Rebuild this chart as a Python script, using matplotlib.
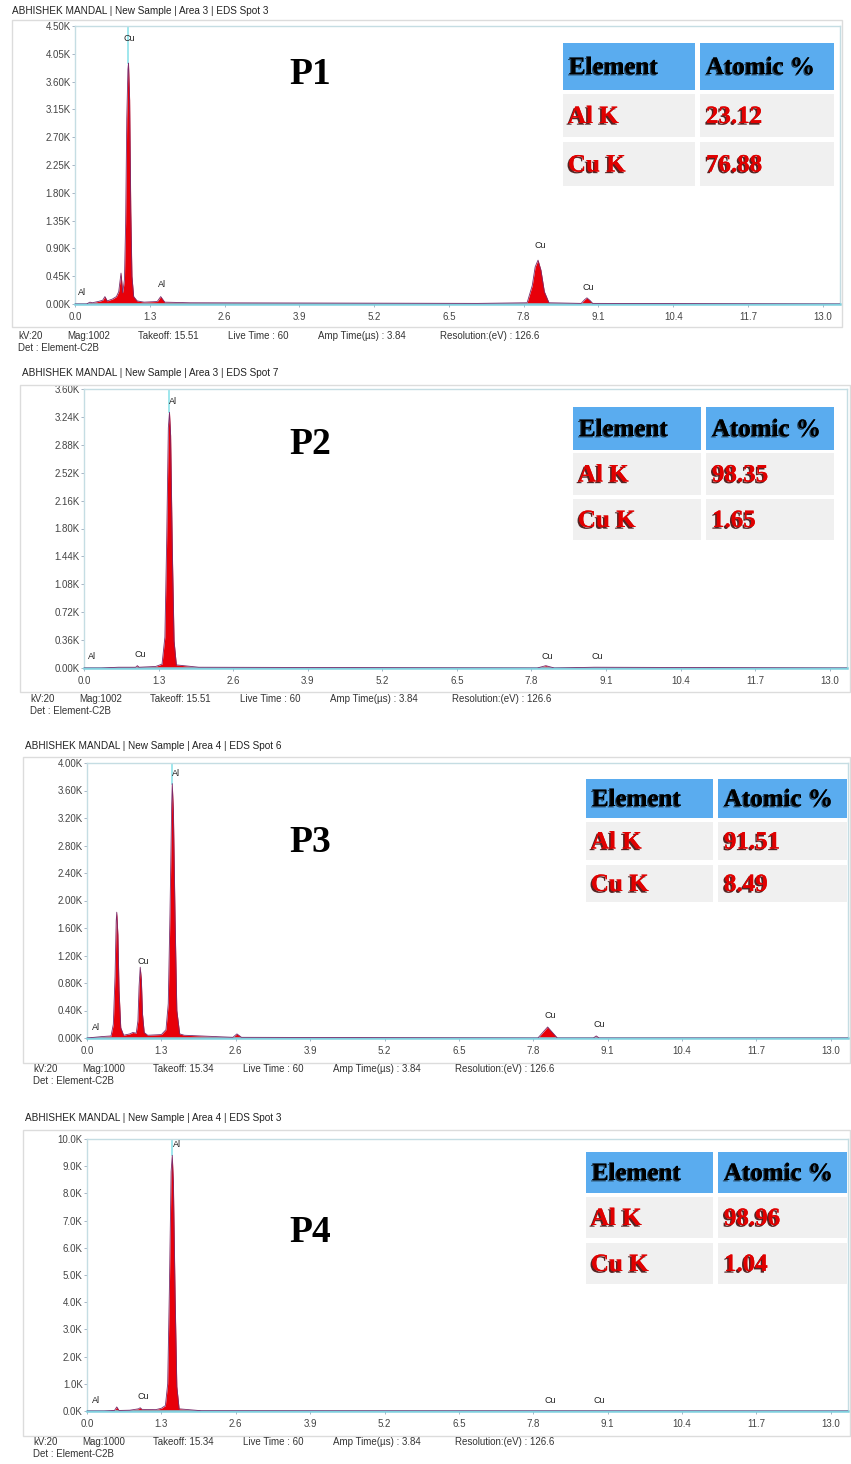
import numpy as np
import matplotlib.pyplot as plt
from matplotlib.patches import Rectangle
import matplotlib.patheffects as pe

W, H = 851, 1464

# energies in keV, counts in thousands
p1_energy = [0.0, 0.20, 0.26, 0.30, 0.40, 0.48, 0.52, 0.56, 0.65, 0.72, 0.76, 0.78, 0.80,
             0.83, 0.86, 0.88, 0.90, 0.92, 0.93, 0.95, 0.97, 0.99, 1.02, 1.08, 1.20, 1.43,
             1.49, 1.56, 2.00, 7.00, 7.86, 7.95, 8.00, 8.05, 8.10, 8.16, 8.24, 8.80, 8.86,
             8.90, 8.95, 9.00, 13.3]
p1_counts = [0.0, 0.0, 0.03, 0.02, 0.04, 0.06, 0.12, 0.05, 0.08, 0.12, 0.20, 0.35, 0.50,
             0.18, 0.40, 1.30, 3.00, 3.80, 3.90, 3.30, 1.50, 0.45, 0.12, 0.05, 0.03, 0.04,
             0.12, 0.03, 0.02, 0.01, 0.02, 0.30, 0.60, 0.71, 0.55, 0.20, 0.02, 0.01, 0.07,
             0.10, 0.06, 0.01, 0.0]

p2_energy = [0.0, 0.30, 0.60, 0.90, 0.93, 0.96, 1.25, 1.36, 1.41, 1.44, 1.47, 1.49, 1.51,
             1.54, 1.57, 1.61, 2.00, 7.90, 8.05, 8.20, 8.90, 13.3]
p2_counts = [0.0, 0.0, 0.01, 0.01, 0.03, 0.01, 0.02, 0.05, 0.40, 1.60, 3.10, 3.30, 3.00,
             1.50, 0.35, 0.04, 0.01, 0.0, 0.03, 0.0, 0.01, 0.0]

p3_energy = [0.0, 0.25, 0.42, 0.46, 0.49, 0.51, 0.52, 0.54, 0.56, 0.59, 0.64, 0.75, 0.80,
             0.86, 0.89, 0.91, 0.93, 0.95, 0.97, 1.00, 1.06, 1.30, 1.38, 1.42, 1.45, 1.48,
             1.49, 1.51, 1.54, 1.57, 1.62, 1.70, 2.55, 2.62, 2.70, 7.88, 8.05, 8.22, 8.85,
             8.90, 8.95, 13.3]
p3_counts = [0.0, 0.02, 0.03, 0.20, 0.90, 1.70, 1.83, 1.50, 0.70, 0.15, 0.04, 0.06, 0.08,
             0.07, 0.25, 0.75, 1.03, 0.85, 0.35, 0.08, 0.04, 0.05, 0.12, 0.50, 1.80, 3.40,
             3.70, 3.30, 1.70, 0.40, 0.06, 0.04, 0.01, 0.06, 0.01, 0.0, 0.16, 0.0, 0.0, 0.03,
             0.0, 0.0]

p4_energy = [0.0, 0.30, 0.48, 0.52, 0.56, 0.75, 0.90, 0.93, 0.96, 1.20, 1.30, 1.37, 1.41,
             1.44, 1.47, 1.49, 1.51, 1.54, 1.57, 1.61, 2.00, 13.3]
p4_counts = [0.0, 0.0, 0.02, 0.15, 0.02, 0.03, 0.08, 0.12, 0.06, 0.05, 0.10, 0.20, 1.00,
             4.50, 8.80, 9.40, 8.40, 4.20, 0.90, 0.08, 0.01, 0.0]

p1_yticks = [0.0, 0.45, 0.90, 1.35, 1.80, 2.25, 2.70, 3.15, 3.60, 4.05, 4.50]
p2_yticks = [0.0, 0.36, 0.72, 1.08, 1.44, 1.80, 2.16, 2.52, 2.88, 3.24, 3.60]
p3_yticks = [0.0, 0.40, 0.80, 1.20, 1.60, 2.00, 2.40, 2.80, 3.20, 3.60, 4.00]
p4_yticks = [0.0, 1.0, 2.0, 3.0, 4.0, 5.0, 6.0, 7.0, 8.0, 9.0, 10.0]
x_ticks = [0.0, 1.3, 2.6, 3.9, 5.2, 6.5, 7.8, 9.1, 10.4, 11.7, 13.0]

# peak labels: (text, energy, height)
p1_labels = [("Al", 0.12, 0.18), ("Cu", 0.94, 4.30), ("Al", 1.52, 0.31),
             ("Cu", 8.09, 0.94), ("Cu", 8.92, 0.26)]
p2_labels = [("Al", 0.14, 0.15), ("Cu", 0.98, 0.17), ("Al", 1.55, 3.44),
             ("Cu", 8.08, 0.15), ("Cu", 8.95, 0.15)]
p3_labels = [("Al", 0.16, 0.16), ("Cu", 0.98, 1.12), ("Al", 1.55, 3.84),
             ("Cu", 8.10, 0.32), ("Cu", 8.95, 0.19)]
p4_labels = [("Al", 0.16, 0.40), ("Cu", 0.98, 0.55), ("Al", 1.57, 9.78),
             ("Cu", 8.10, 0.40), ("Cu", 8.95, 0.40)]

elements = ["Al K", "Cu K"]
p1_atomic = ["23.12", "76.88"]
p2_atomic = ["98.35", "1.65"]
p3_atomic = ["91.51", "8.49"]
p4_atomic = ["98.96", "1.04"]

titles = ["ABHISHEK MANDAL | New Sample | Area 3 | EDS Spot 3",
          "ABHISHEK MANDAL | New Sample | Area 3 | EDS Spot 7",
          "ABHISHEK MANDAL | New Sample | Area 4 | EDS Spot 6",
          "ABHISHEK MANDAL | New Sample | Area 4 | EDS Spot 3"]
mags = ["Mag:1002", "Mag:1002", "Mag:1000", "Mag:1000"]
takeoffs = ["Takeoff: 15.51", "Takeoff: 15.51", "Takeoff: 15.34", "Takeoff: 15.34"]
panel_names = ["P1", "P2", "P3", "P4"]

panels = [
    dict(e=p1_energy, c=p1_counts, yt=p1_yticks, fmt="{:.2f}K", lab=p1_labels, at=p1_atomic,
         marker=0.93, ax=(75, 26, 840, 304), frame=(12, 20, 842, 327), title=(12, 11),
         foot=(18, 336), pname=(310, 75),
         table=(563, 695, 700, 834, 43, 90, 94, 137, 142, 186)),
    dict(e=p2_energy, c=p2_counts, yt=p2_yticks, fmt="{:.2f}K", lab=p2_labels, at=p2_atomic,
         marker=1.49, ax=(84, 389, 847, 668), frame=(20, 385, 850, 692), title=(22, 373),
         foot=(30, 699), pname=(310, 445),
         table=(573, 701, 706, 834, 407, 450, 453, 495, 499, 540)),
    dict(e=p3_energy, c=p3_counts, yt=p3_yticks, fmt="{:.2f}K", lab=p3_labels, at=p3_atomic,
         marker=1.49, ax=(87, 763, 848, 1038), frame=(23, 757, 850, 1063), title=(25, 746),
         foot=(33, 1069), pname=(310, 843),
         table=(586, 713, 718, 847, 779, 818, 822, 860, 865, 902)),
    dict(e=p4_energy, c=p4_counts, yt=p4_yticks, fmt="{:.1f}K", lab=p4_labels, at=p4_atomic,
         marker=1.49, ax=(87, 1139, 848, 1411), frame=(23, 1130, 850, 1436), title=(25, 1118),
         foot=(33, 1442), pname=(310, 1233),
         table=(586, 713, 718, 847, 1152, 1193, 1197, 1238, 1243, 1284)),
]

plt.rcParams['font.family'] = ['Liberation Sans', 'DejaVu Sans']
fig = plt.figure(figsize=(W / 100, H / 100), dpi=100)

serif = 'Liberation Serif'
shadow = [pe.withSimplePatchShadow(offset=(-1.2, -1.2), shadow_rgbFace='#3a0000', alpha=0.85),
          pe.Normal()]
shadow_hdr = [pe.withSimplePatchShadow(offset=(-1.0, -1.0), shadow_rgbFace='#000000', alpha=0.6),
              pe.Normal()]

for i, p in enumerate(panels):
    l, t, r, b = p['ax']
    ax = fig.add_axes([l / W, 1 - b / H, (r - l) / W, (b - t) / H])
    ax.fill_between(p['e'], p['c'], color='#e8000a', lw=0, zorder=2)
    ax.plot(p['e'], p['c'], color='#7a2a6a', lw=0.6, zorder=3)
    ymax = p['yt'][-1]
    ax.plot([p['marker'], p['marker']], [max(p['c']), ymax], color='#8fe3ea', lw=1.2, zorder=1)
    ax.set_xlim(0, 13.3)
    ax.set_ylim(0, ymax)
    ax.set_xticks(x_ticks)
    ax.set_xticklabels([f"{v:.1f}" for v in x_ticks])
    ax.set_yticks(p['yt'])
    ax.set_yticklabels([p['fmt'].format(v) for v in p['yt']])
    ax.tick_params(axis='both', labelsize=7, colors='#9ab', labelcolor='#444', length=2, width=0.6)
    ax.tick_params(axis='y', pad=1)
    ax.tick_params(axis='x', pad=4)
    for s in ['left', 'top', 'right']:
        ax.spines[s].set_color('#c5dde3')
        ax.spines[s].set_linewidth(1.0)
    ax.spines['bottom'].set_color('#7fd0de')
    ax.spines['bottom'].set_linewidth(1.8)
    for txt, xe, ye in p['lab']:
        ax.text(xe, ye, txt, fontsize=6.5, color='#222', ha='center', va='center', zorder=4)

# overlay in pixel coordinates for frames, headers, tables and labels
ov = fig.add_axes([0, 0, 1, 1], facecolor='none')
ov.set_xlim(0, W)
ov.set_ylim(H, 0)
ov.axis('off')

for i, p in enumerate(panels):
    fl, ft, fr, fb = p['frame']
    ov.add_patch(Rectangle((fl, ft), fr - fl, fb - ft, fill=False, ec='#dcdcdc', lw=1.0))
    ov.text(p['title'][0], p['title'][1], titles[i], fontsize=7.2, color='#222',
            ha='left', va='center')
    fx, fy = p['foot']
    foot_items = ["kV:20", mags[i], takeoffs[i], "Live Time : 60",
                  "Amp Time(\u00b5s) : 3.84", "Resolution:(eV) : 126.6"]
    for off, s in zip([0, 49, 120, 210, 300, 422], foot_items):
        ov.text(fx + off, fy, s, fontsize=7, color='#333', ha='left', va='center')
    ov.text(fx, fy + 12, "Det : Element-C2B", fontsize=7, color='#333', ha='left', va='center')

    ov.text(p['pname'][0], p['pname'][1], panel_names[i], fontsize=27, fontweight='bold',
            family=serif, ha='center', va='center', color='black')

    x0, s0, s1, x1, h0, h1, a0, a1, c0, c1 = p['table']
    ov.add_patch(Rectangle((x0, h0), s0 - x0, h1 - h0, fc='#5aacef', ec='none'))
    ov.add_patch(Rectangle((s1, h0), x1 - s1, h1 - h0, fc='#5aacef', ec='none'))
    for (r0, r1_) in [(a0, a1), (c0, c1)]:
        ov.add_patch(Rectangle((x0, r0), s0 - x0, r1_ - r0, fc='#f0f0f0', ec='none'))
        ov.add_patch(Rectangle((s1, r0), x1 - s1, r1_ - r0, fc='#f0f0f0', ec='none'))
    ov.text(x0 + 6, (h0 + h1) / 2 + 1, "Element", fontsize=18, fontweight='bold', family=serif,
            ha='left', va='center', color='black', path_effects=shadow_hdr)
    ov.text(s1 + 6, (h0 + h1) / 2 + 1, "Atomic %", fontsize=18, fontweight='bold', family=serif,
            ha='left', va='center', color='black', path_effects=shadow_hdr)
    for (r0, r1_), el, val in zip([(a0, a1), (c0, c1)], elements, p['at']):
        ov.text(x0 + 5, (r0 + r1_) / 2 + 1, el, fontsize=18, fontweight='bold', family=serif,
                ha='left', va='center', color='#e00000', path_effects=shadow)
        ov.text(s1 + 6, (r0 + r1_) / 2 + 1, val, fontsize=18, fontweight='bold', family=serif,
                ha='left', va='center', color='#e00000', path_effects=shadow)

fig.savefig("out.png", dpi=100)
